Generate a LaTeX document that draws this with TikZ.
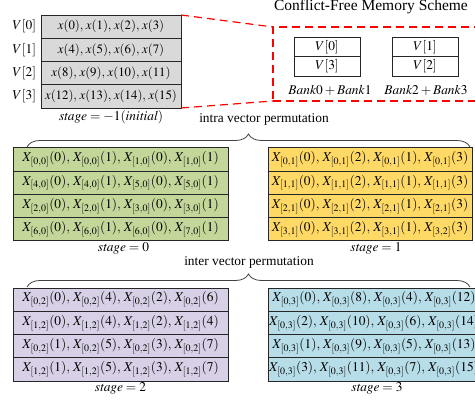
\documentclass[tikz,border=0pt]{standalone}
\usepackage{mathptmx}
\usepackage[no-math]{fontspec}
\setmainfont{Liberation Serif}
\usepackage{xcolor}
\usetikzlibrary{positioning,decorations.pathreplacing}
\definecolor{initcol}{HTML}{D9D9D9}
\definecolor{stagezero}{HTML}{C4D79B}
\definecolor{stageone}{HTML}{FFD966}
\definecolor{stagetwo}{HTML}{D8D0E6}
\definecolor{stagethree}{HTML}{B7DDE8}
\newcommand{\rowtxt}[1]{\makebox[0pt]{$\thinmuskip=4mu #1$}}
\newcommand{\inittxt}[1]{\makebox[0pt]{\fontsize{12.8}{15}\selectfont$\thinmuskip=3.5mu #1$}}
\newcommand{\Xs}[1]{X_{\kern0.5pt[#1]}}

\begin{document}
\begin{tikzpicture}[
  x=1pt, y=-1pt,
  font=\fontsize{13.4}{16}\selectfont,
  vrow/.style={
    draw=black!85, line width=0.8pt, outer sep=0pt, inner sep=1pt,
    minimum height=23.25pt,
  },
  initrow/.style={vrow, fill=initcol, minimum width=140pt},
  zerorow/.style={vrow, fill=stagezero, minimum width=215pt},
  onerow/.style={vrow, fill=stageone, minimum width=204pt},
  tworow/.style={vrow, fill=stagetwo, minimum width=215pt},
  threerow/.style={vrow, fill=stagethree, minimum width=212pt},
  bankcell/.style={
    draw=black!85, line width=0.8pt, outer sep=0pt, inner sep=1pt,
    minimum width=66pt, minimum height=19.5pt,
  },
  memdash/.style={draw=red, line width=1.2pt, dash pattern=on 8pt off 5pt},
  permbrace/.style={decorate, decoration={brace, amplitude=13pt}, line width=0.8pt, draw=black!75},
  caption/.style={inner sep=1pt}
]
\path[use as bounding box, clip] (0,0) rectangle (475,405);

% Initial vectors
\node[initrow] (v0) at (111,26.6) {\inittxt{x(0), x(1), x(2), x(3)}};
\node[initrow, below=0pt of v0] (v1) {\inittxt{x(4), x(5), x(6), x(7)}};
\node[initrow, below=0pt of v1] (v2) {\inittxt{x(8), x(9), x(10), x(11)}};
\node[initrow, below=0pt of v2] (v3) {\inittxt{x(12), x(13), x(14), x(15)}};
\node[left=1.5pt of v0] (lv0) {$V[0]$};
\node[left=1.5pt of v1] (lv1) {$V[1]$};
\node[left=1.5pt of v2] (lv2) {$V[2]$};
\node[left=1.5pt of v3] (lv3) {$V[3]$};
\node[caption, below=1.5pt of v3] (init) {$\mathit{stage}=-1(\mathit{initial})$};

% Memory scheme
\node[font=\fontsize{15.5}{18}\selectfont] (title) at (371,7) {Conflict-Free Memory Scheme};
\node[memdash, anchor=north west, outer sep=0pt, minimum width=230pt, minimum height=74pt] (memrect) at (273,27) {};
\draw[memdash] (v0.north east) -- (memrect.north west);
\draw[memdash] (v3.south east) -- (memrect.south west);
\node[bankcell] (k0) at (327,47) {$V[0]$};
\node[bankcell, below=0pt of k0] (k3) {$V[3]$};
\node[bankcell] (k1) at (425,47) {$V[1]$};
\node[bankcell, below=0pt of k1] (k2) {$V[2]$};
\node (bank01) at (330,90) {$\mathit{Bank}0+\mathit{Bank}1$};
\node (bank23) at (426,90) {$\mathit{Bank}2+\mathit{Bank}3$};

% Intra vector permutation
\node (intra) at (264,119) {intra vector permutation};
\coordinate (ba) at (27,147);
\coordinate (bb) at (470,147);
\draw[permbrace] (ba) -- (bb);

% Stage 0
\node[zerorow] (g0) at (120.5,159.5) {\rowtxt{\Xs{0,0}(0), \Xs{0,0}(1), \Xs{1,0}(0), \Xs{1,0}(1)}};
\node[zerorow, below=0pt of g0] (g1) {\rowtxt{\Xs{4,0}(0), \Xs{4,0}(1), \Xs{5,0}(0), \Xs{5,0}(1)}};
\node[zerorow, below=0pt of g1] (g2) {\rowtxt{\Xs{2,0}(0), \Xs{2,0}(1), \Xs{3,0}(0), \Xs{3,0}(1)}};
\node[zerorow, below=0pt of g2] (g3) {\rowtxt{\Xs{6,0}(0), \Xs{6,0}(1), \Xs{6,0}(0), \Xs{7,0}(1)}};
\node[caption, below=0pt of g3, xshift=3pt] (st0) {$\mathit{stage}=0$};

% Stage 1
\node[onerow] (y0) at (370,159.5) {\rowtxt{\Xs{0,1}(0), \Xs{0,1}(2), \Xs{0,1}(1), \Xs{0,1}(3)}};
\node[onerow, below=0pt of y0] (y1) {\rowtxt{\Xs{1,1}(0), \Xs{1,1}(2), \Xs{1,1}(1), \Xs{1,1}(3)}};
\node[onerow, below=0pt of y1] (y2) {\rowtxt{\Xs{2,1}(0), \Xs{2,1}(2), \Xs{2,1}(1), \Xs{2,1}(3)}};
\node[onerow, below=0pt of y2] (y3) {\rowtxt{\Xs{3,1}(0), \Xs{3,1}(2), \Xs{3,1}(1), \Xs{3,2}(3)}};
\node[caption, below=0pt of y3, xshift=6pt] (st1) {$\mathit{stage}=1$};

% Inter vector permutation
\node (inter) at (249,262) {inter vector permutation};
\coordinate (bc) at (27,287);
\coordinate (bd) at (470,287);
\draw[permbrace] (bc) -- (bd);

% Stage 2
\node[tworow] (p0) at (120.5,299.6) {\rowtxt{\Xs{0,2}(0), \Xs{0,2}(4), \Xs{0,2}(2), \Xs{0,2}(6)}};
\node[tworow, below=0pt of p0] (p1) {\rowtxt{\Xs{1,2}(0), \Xs{1,2}(4), \Xs{1,2}(2), \Xs{1,2}(4)}};
\node[tworow, below=0pt of p1] (p2) {\rowtxt{\Xs{0,2}(1), \Xs{0,2}(5), \Xs{0,2}(3), \Xs{0,2}(7)}};
\node[tworow, below=0pt of p2] (p3) {\rowtxt{\Xs{1,2}(1), \Xs{1,2}(5), \Xs{1,2}(3), \Xs{1,2}(7)}};
\node[caption, below=0pt of p3] (st2) {$\mathit{stage}=2$};

% Stage 3
\node[threerow] (c0) at (374,299.6) {\rowtxt{\Xs{0,3}(0), \Xs{0,3}(8), \Xs{0,3}(4), \Xs{0,3}(12)}};
\node[threerow, below=0pt of c0] (c1) {\rowtxt{\Xs{0,3}(2), \Xs{0,3}(10), \Xs{0,3}(6), \Xs{0,3}(14)}};
\node[threerow, below=0pt of c1] (c2) {\rowtxt{\Xs{0,3}(1), \Xs{0,3}(9), \Xs{0,3}(5), \Xs{0,3}(13)}};
\node[threerow, below=0pt of c2] (c3) {\rowtxt{\Xs{0,3}(3), \Xs{0,3}(11), \Xs{0,3}(7), \Xs{0,3}(15)}};
\node[caption, below=0pt of c3, xshift=3pt] (st3) {$\mathit{stage}=3$};

\end{tikzpicture}
\end{document}
